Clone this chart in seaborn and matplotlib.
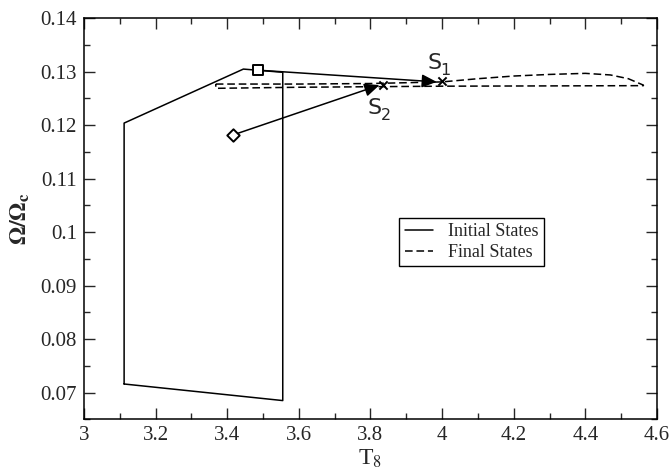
import matplotlib
matplotlib.use('Agg')
import matplotlib.pyplot as plt
from matplotlib.ticker import MultipleLocator
import seaborn as sns
import pandas as pd

# 데이터: 초기 상태 (실선 다각형)
init_T = [3.112, 3.112, 3.445, 3.555, 3.555, 3.112]
init_W = [0.0716, 0.1204, 0.1305, 0.1299, 0.0685, 0.0716]

# 최종 상태 (점선 고리)
final_T = [3.368, 3.6, 3.8, 4.0, 4.1, 4.2, 4.3, 4.4, 4.47, 4.52, 4.562,
           4.562, 4.0, 3.6, 3.368, 3.368]
final_W = [0.1277, 0.1277, 0.1278, 0.1281, 0.1287, 0.1292, 0.1295, 0.1297, 0.1294, 0.1287, 0.1275,
           0.1274, 0.1273, 0.1271, 0.1269, 0.1277]

# 표시점
square_pt = (3.485, 0.1303)
diamond_pt = (3.417, 0.1182)
cross_T = [4.0, 3.835]
cross_W = [0.1282, 0.1276]
arrow_tips = [(3.985, 0.1281), (3.825, 0.1275)]
label_subs = ['1', '2']
label_pos = [(3.998, 0.1316), (3.830, 0.1232)]

sns.set_style('ticks')
plt.rcParams['font.family'] = ['Liberation Serif', 'DejaVu Serif']
plt.rcParams['mathtext.fontset'] = 'stix'

fig = plt.figure(figsize=(6.71, 4.70), dpi=100)
ax = fig.add_axes([0.1252, 0.1079, 0.8539, 0.8532])

init_df = pd.DataFrame({'T': init_T, 'W': init_W})
final_df = pd.DataFrame({'T': final_T, 'W': final_W})

sns.lineplot(data=init_df, x='T', y='W', sort=False, estimator=None, color='black',
             linewidth=1.1, ax=ax, label='Initial States')
sns.lineplot(data=final_df, x='T', y='W', sort=False, estimator=None, color='black',
             linewidth=1.1, linestyle=(0, (5, 2.5)), ax=ax, label='Final States')

# 화살표
for start, tip in zip([square_pt, diamond_pt], arrow_tips):
    ax.annotate('', xy=tip, xytext=start,
                arrowprops=dict(arrowstyle='-|>,head_length=0.9,head_width=0.4', mutation_scale=10,
                                color='black', lw=1.1, shrinkA=0, shrinkB=0))

sns.scatterplot(x=[square_pt[0]], y=[square_pt[1]], marker='s', s=60, facecolor='white',
                edgecolor='black', linewidth=1.4, ax=ax, zorder=5)
sns.scatterplot(x=[diamond_pt[0]], y=[diamond_pt[1]], marker='D', s=40, facecolor='white',
                edgecolor='black', linewidth=1.4, ax=ax, zorder=5)
sns.scatterplot(x=cross_T, y=cross_W, marker='x', s=35, color='black', linewidth=1.4, ax=ax, zorder=5)

# S1, S2 라벨 (산세리프, 아래 첨자)
for sub, (tx, ty) in zip(label_subs, label_pos):
    ax.text(tx, ty, 'S', fontsize=16, family='DejaVu Sans', ha='right', va='center')
    ax.annotate(sub, xy=(tx, ty), xytext=(-0.5, -5), textcoords='offset points',
                fontsize=11.5, family='DejaVu Sans', ha='left', va='center')

ax.set_xlim(3, 4.6)
ax.set_ylim(0.065, 0.14)
ax.xaxis.set_minor_locator(MultipleLocator(0.1))
ax.yaxis.set_minor_locator(MultipleLocator(0.005))
ax.set_xticks([3, 3.2, 3.4, 3.6, 3.8, 4, 4.2, 4.4, 4.6])
ax.set_xticklabels(['3', '3.2', '3.4', '3.6', '3.8', '4', '4.2', '4.4', '4.6'])
ax.set_yticks([0.07, 0.08, 0.09, 0.1, 0.11, 0.12, 0.13, 0.14])
ax.set_yticklabels(['0.07', '0.08', '0.09', '0.1', '0.11', '0.12', '0.13', '0.14'])
ax.tick_params(which='both', direction='in', top=True, right=True, labelsize=15, width=1, pad=5)
ax.tick_params(which='major', length=8)
ax.tick_params(which='minor', length=4)
for sp in ax.spines.values():
    sp.set_linewidth(1.1)
    sp.set_color('black')

ax.set_xlabel(r'T$_8$', fontsize=17, labelpad=2)
ax.set_ylabel(r'$\mathbf{\Omega/\Omega_c}$', fontsize=17, labelpad=6)

leg = ax.legend(loc='upper left', bbox_to_anchor=(0.55, 0.502), borderaxespad=0, fontsize=13,
                frameon=True, fancybox=False, edgecolor='black', framealpha=1,
                handlelength=1.6, handletextpad=0.8, borderpad=0.3, labelspacing=0.2)
leg.get_frame().set_linewidth(1.0)

fig.savefig('out.png', dpi=100)
